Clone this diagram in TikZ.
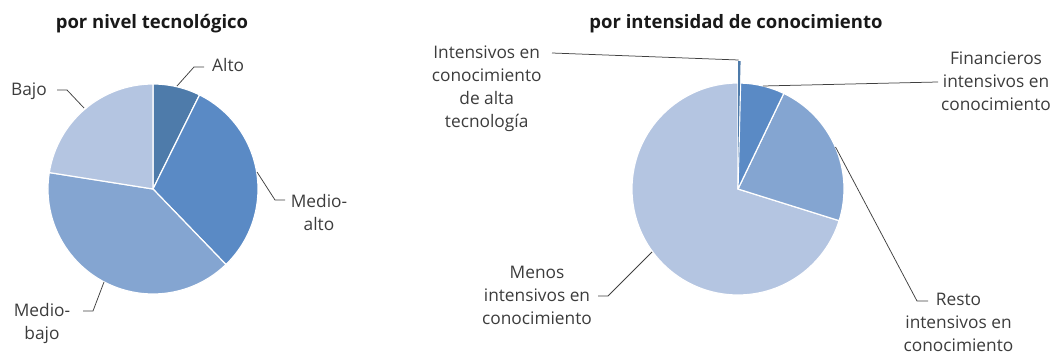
\documentclass[tikz,border=0pt]{standalone}
\usepackage{fontspec}
\setmainfont{Open Sans}
\usetikzlibrary{calc}
\definecolor{sliceA}{HTML}{4E7BAA}
\definecolor{sliceB}{HTML}{5A8AC5}
\definecolor{sliceC}{HTML}{84A5D1}
\definecolor{sliceD}{HTML}{B4C5E1}
\definecolor{txtgray}{HTML}{3C3C3C}
\definecolor{linegray}{HTML}{404040}
\tikzstyle{slice} = [draw=white, line width=1.2pt, line join=round]
\tikzstyle{chartlabel} = [inner sep=0pt, align=center, text=txtgray, font=\fontsize{17.3}{23}\selectfont]
\tikzstyle{charttitle} = [inner sep=0pt, anchor=base, text=black!90, font=\bfseries\fontsize{18.5}{22}\selectfont]
\tikzstyle{leader} = [draw=linegray, line width=0.75pt]

\begin{document}
\begin{tikzpicture}[x=1pt, y=1pt]
\useasboundingbox (0,0) rectangle (1053,356);

% por nivel tecnologico
\coordinate (tecC) at (153,167);
\filldraw [slice, fill=sliceA] (tecC) -- ++(63.7:105) arc[start angle=63.7, end angle=90, radius=105pt] -- cycle;
\filldraw [slice, fill=sliceB] (tecC) -- ++(-46:105) arc[start angle=-46, end angle=63.7, radius=105pt] -- cycle;
\filldraw [slice, fill=sliceC] (tecC) -- ++(171:105) arc[start angle=171, end angle=314, radius=105pt] -- cycle;
\filldraw [slice, fill=sliceD] (tecC) -- ++(90:105) arc[start angle=90, end angle=171, radius=105pt] -- cycle;

\node (tecTitle) [charttitle] at (152,327.5) {por nivel tecnológico};
\node (alto) [chartlabel, anchor=base west] at (212,284.3) {Alto};
\node (bajo) [chartlabel, anchor=base east] at (47,260.3) {Bajo};
\node (medioAlto) [chartlabel] at (319,143.5) {Medio-\\alto};
\node (medioBajo) [chartlabel] at (42,32.1) {Medio-\\bajo};

\coordinate (altoA) at (177,270);
\coordinate (altoB) at (194,289);
\coordinate (altoC) at (204,289);
\coordinate (bajoA) at (84,248);
\coordinate (bajoB) at (67,266);
\coordinate (bajoC) at (57,266);
\coordinate (medioAltoA) at (257,184);
\coordinate (medioAltoB) at (275,156);
\coordinate (medioAltoC) at (285,156);
\coordinate (medioBajoA) at (104,74);
\coordinate (medioBajoB) at (93,45);
\coordinate (medioBajoC) at (83,45);

\draw [leader] (altoA) -- (altoB) -- (altoC);
\draw [leader] (bajoA) -- (bajoB) -- (bajoC);
\draw [leader] (medioAltoA) -- (medioAltoB) -- (medioAltoC);
\draw [leader] (medioBajoA) -- (medioBajoB) -- (medioBajoC);

% por intensidad de conocimiento
\coordinate (conC) at (738,167);
\coordinate (conX) at (738,189);
\filldraw [slice, fill=sliceD] (conC) -- ++(90:106) arc[start angle=90, end angle=342.6, radius=106pt] -- cycle;
\filldraw [slice, fill=sliceC] (conC) -- ++(-17.4:106) arc[start angle=-17.4, end angle=64.4, radius=106pt] -- cycle;
\filldraw [slice, fill=sliceB] (conC) -- ++(64.4:106) arc[start angle=64.4, end angle=88.6, radius=106pt] -- cycle;
\fill [sliceA] (conX) -- ++(88.6:106) arc[start angle=88.6, end angle=90, radius=106pt] -- cycle;

\node (conTitle) [charttitle] at (736,327.5) {por intensidad de conocimiento};
\node (altaTec) [chartlabel] at (486.7,267.6) {Intensivos en\\conocimiento\\de alta\\tecnología};
\node (finan) [chartlabel] at (996,274.5) {Financieros\\intensivos en\\conocimiento};
\node (resto) [chartlabel] at (958.5,33.5) {Resto\\intensivos en\\conocimiento};
\node (menos) [chartlabel] at (537,60.3) {Menos\\intensivos en\\conocimiento};

\coordinate (altaTecA) at (738.6,296);
\coordinate (altaTecB) at (552,303);
\coordinate (finanA) at (763,270);
\coordinate (finanB) at (938,274);
\coordinate (restoA) at (835.5,209);
\coordinate (restoB) at (917,55);
\coordinate (restoC) at (928,55);
\coordinate (menosA) at (652,104);
\coordinate (menosB) at (608,60);
\coordinate (menosC) at (598,60);

\draw [leader] (altaTecA) -- (altaTecB);
\draw [leader] (finanA) -- (finanB);
\draw [leader] (restoA) -- (restoB) -- (restoC);
\draw [leader] (menosA) -- (menosB) -- (menosC);

\end{tikzpicture}
\end{document}
